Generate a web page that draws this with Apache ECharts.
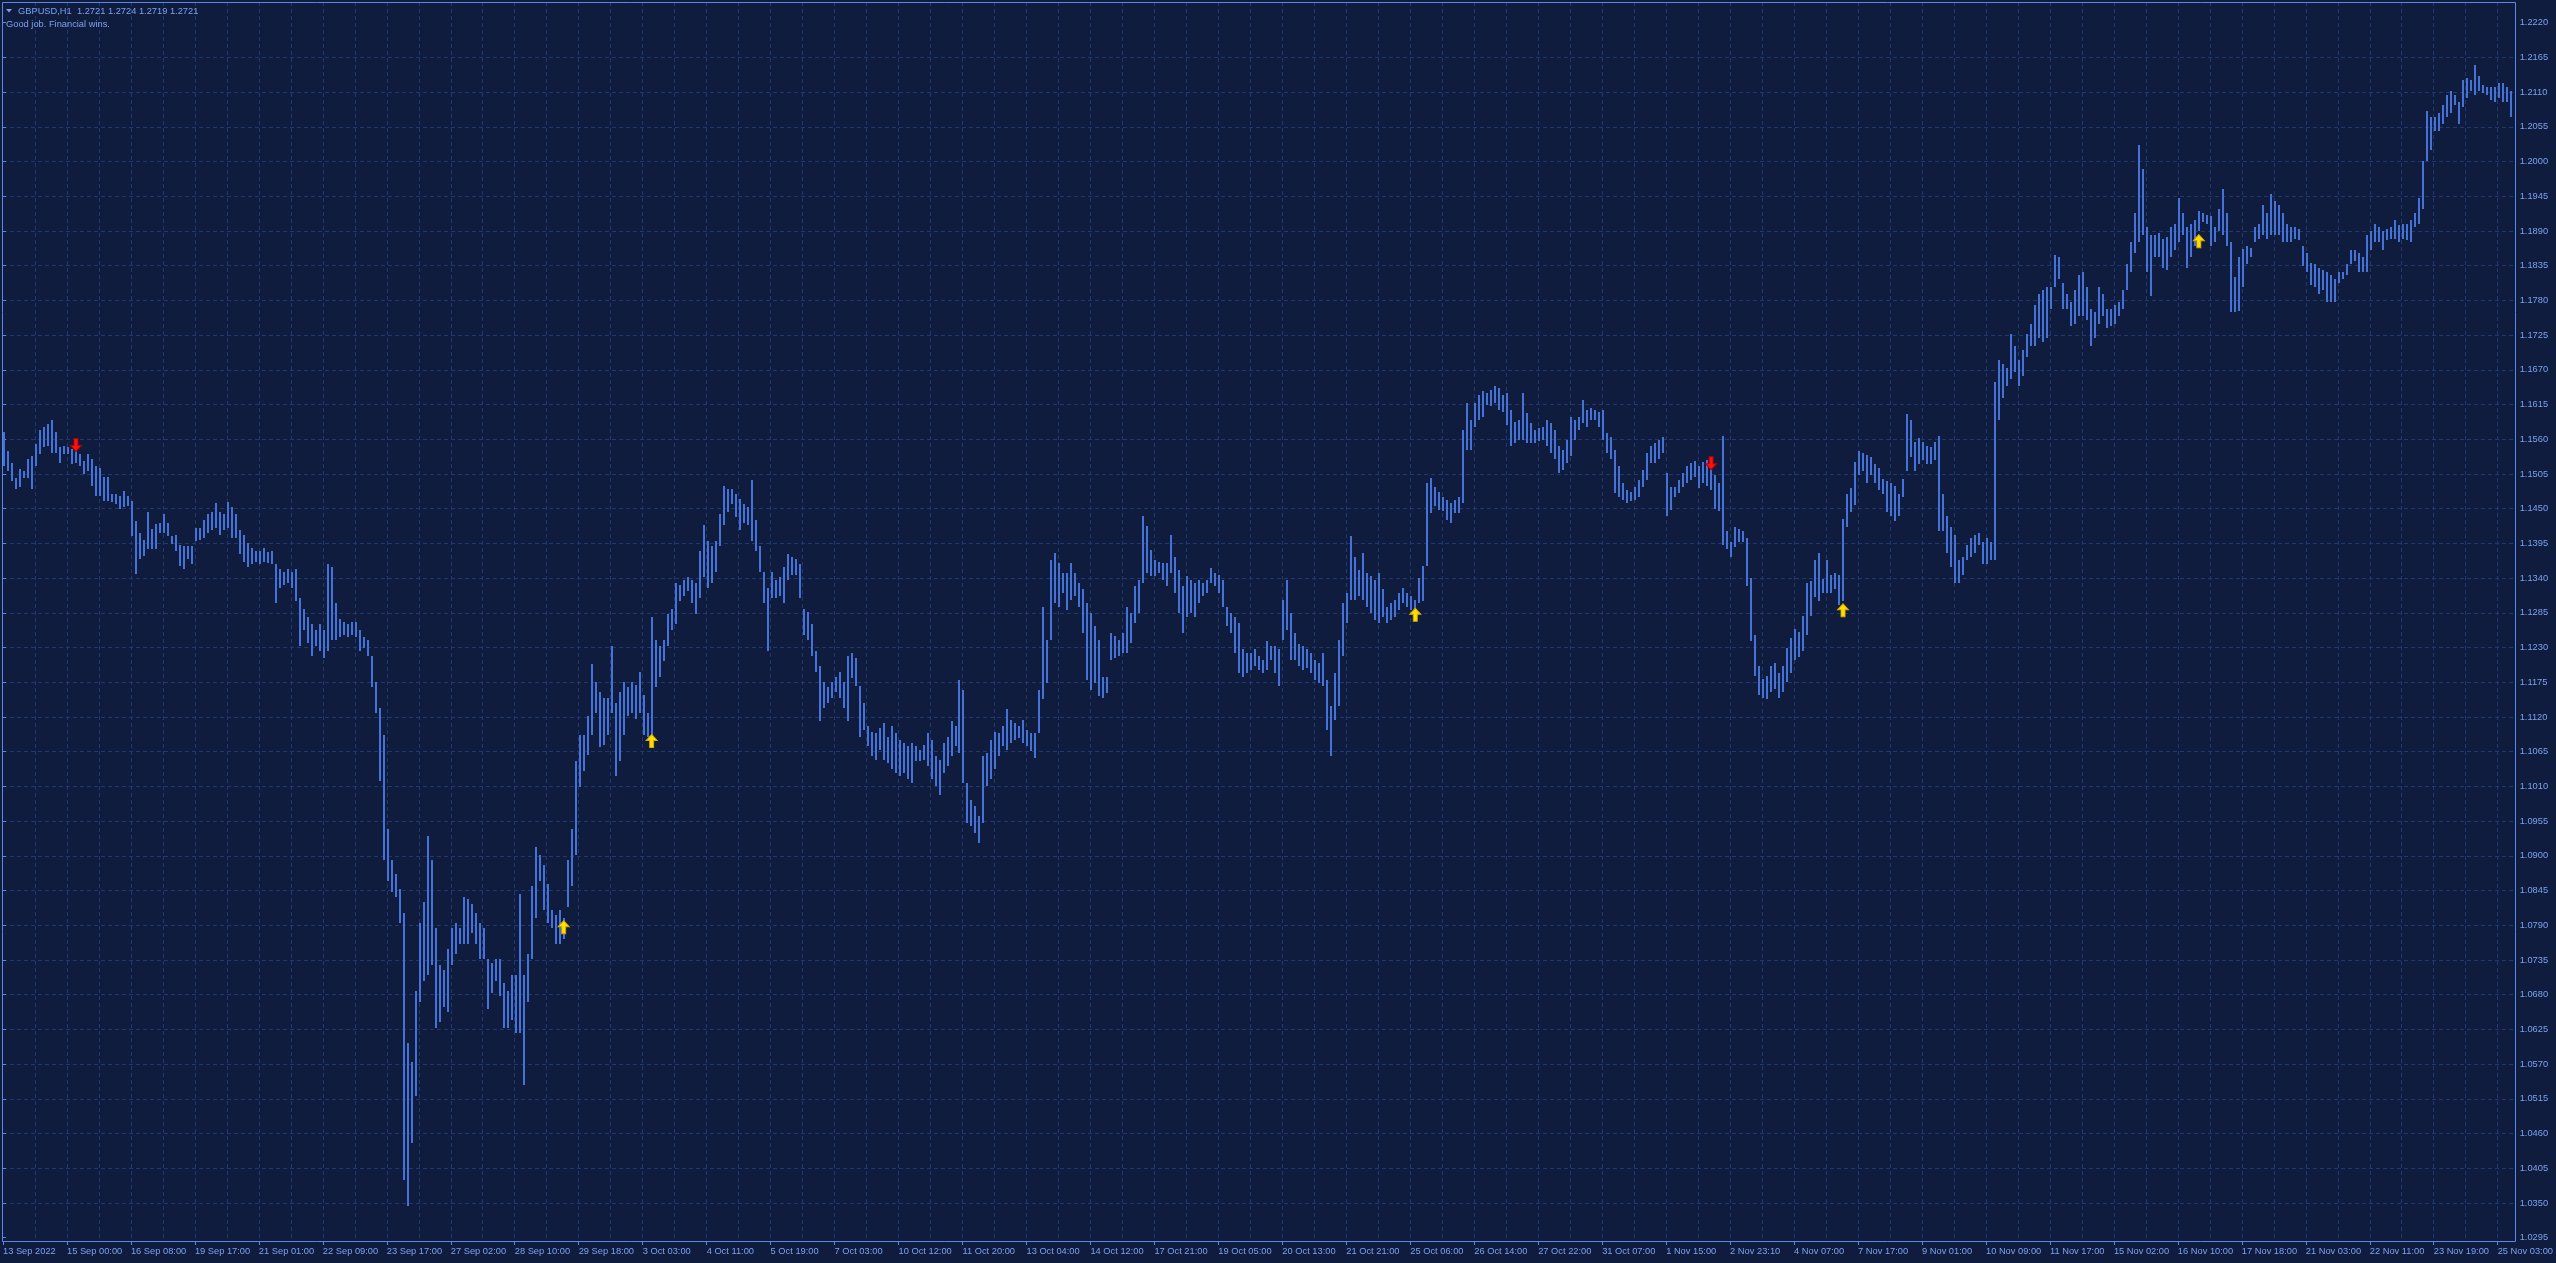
<!DOCTYPE html>
<html>
<head>
<meta charset="utf-8">
<script src="https://cdn.jsdelivr.net/npm/echarts@6/dist/echarts.min.js"></script>
<style>
html,body{margin:0;padding:0;background:#101c3e;overflow:hidden;}
#c{width:2556px;height:1263px;}
</style>
</head>
<body>
<div id="c"></div>
<script>
// ---------------- data ----------------
const symbolName = 'GBPUSD,H1';
const headerPrices = ['1.2721', '1.2724', '1.2719', '1.2721'];
const noteText = 'Good job. Financial wins.';

// one time label every 32 hourly periods
const timeLabels = ['13 Sep 2022','15 Sep 00:00','16 Sep 08:00','19 Sep 17:00','21 Sep 01:00','22 Sep 09:00','23 Sep 17:00','27 Sep 02:00','28 Sep 10:00','29 Sep 18:00','3 Oct 03:00','4 Oct 11:00','5 Oct 19:00','7 Oct 03:00','10 Oct 12:00','11 Oct 20:00','13 Oct 04:00','14 Oct 12:00','17 Oct 21:00','19 Oct 05:00','20 Oct 13:00','21 Oct 21:00','25 Oct 06:00','26 Oct 14:00','27 Oct 22:00','31 Oct 07:00','1 Nov 15:00','2 Nov 23:10','4 Nov 07:00','7 Nov 17:00','9 Nov 01:00','10 Nov 09:00','11 Nov 17:00','15 Nov 02:00','16 Nov 10:00','17 Nov 18:00','21 Nov 03:00','22 Nov 11:00','23 Nov 19:00','25 Nov 03:00'];

const priceTicks = ['1.0295','1.0350','1.0405','1.0460','1.0515','1.0570','1.0625','1.0680','1.0735','1.0790','1.0845','1.0900','1.0955','1.1010','1.1065','1.1120','1.1175','1.1230','1.1285','1.1340','1.1395','1.1450','1.1505','1.1560','1.1615','1.1670','1.1725','1.1780','1.1835','1.1890','1.1945','1.2000','1.2055','1.2110','1.2165','1.2220'];

// high / low of each bar (each bar = 2 hourly periods)
const barHigh = [
1.1571,1.1542,1.1523,1.1499,1.1513,1.1510,1.1529,1.1534,1.1552,1.1574,
1.1579,1.1584,1.1590,1.1571,1.1547,1.1550,1.1547,1.1545,1.1555,1.1537,
1.1526,1.1537,1.1529,1.1518,1.1515,1.1500,1.1500,1.1473,1.1473,1.1470,
1.1478,1.1470,1.1462,1.1430,1.1412,1.1401,1.1444,1.1418,1.1425,1.1428,
1.1441,1.1428,1.1406,1.1409,1.1393,1.1391,1.1391,1.1391,1.1420,1.1420,
1.1432,1.1441,1.1445,1.1459,1.1445,1.1441,1.1460,1.1453,1.1441,1.1416,
1.1408,1.1395,1.1387,1.1383,1.1383,1.1387,1.1381,1.1383,1.1362,1.1354,
1.1350,1.1354,1.1350,1.1354,1.1308,1.1291,1.1279,1.1267,1.1258,1.1267,
1.1258,1.1362,1.1358,1.1300,1.1275,1.1271,1.1267,1.1271,1.1271,1.1258,
1.1246,1.1242,1.1217,1.1175,1.1134,1.1092,1.0943,1.0893,1.0872,1.0848,
1.0810,1.0603,1.0574,1.0686,1.0794,1.0827,1.0931,1.0893,1.0785,1.0727,
1.0719,1.0752,1.0785,1.0794,1.0785,1.0835,1.0831,1.0823,1.0810,1.0794,
1.0785,1.0736,1.0731,1.0736,1.0736,1.0698,1.0686,1.0711,1.0711,1.0839,
1.0711,1.0744,1.0852,1.0914,1.0902,1.0885,1.0856,1.0814,1.0806,1.0814,
1.0802,1.0893,1.0943,1.1051,1.1092,1.1092,1.1121,1.1204,1.1175,1.1159,
1.1150,1.1150,1.1233,1.1142,1.1159,1.1175,1.1167,1.1175,1.1171,1.1192,
1.1155,1.1126,1.1279,1.1242,1.1233,1.1242,1.1283,1.1291,1.1333,1.1329,
1.1337,1.1341,1.1337,1.1333,1.1383,1.1424,1.1399,1.1391,1.1399,1.1441,
1.1486,1.1482,1.1482,1.1474,1.1466,1.1457,1.1453,1.1495,1.1432,1.1391,
1.1350,1.1325,1.1350,1.1337,1.1341,1.1358,1.1379,1.1374,1.1370,1.1362,
1.1291,1.1287,1.1267,1.1225,1.1200,1.1175,1.1167,1.1175,1.1184,1.1192,
1.1175,1.1217,1.1221,1.1213,1.1169,1.1142,1.1105,1.1097,1.1095,1.1103,
1.1111,1.1089,1.1105,1.1095,1.1084,1.1079,1.1074,1.1079,1.1074,1.1068,
1.1076,1.1095,1.1084,1.1058,1.1052,1.1079,1.1089,1.1113,1.1105,1.1179,
1.1163,1.1015,1.0989,1.0979,1.0963,1.1058,1.1063,1.1084,1.1097,1.1095,
1.1105,1.1132,1.1116,1.1111,1.1105,1.1116,1.1100,1.1095,1.1095,1.1163,
1.1295,1.1242,1.1369,1.1380,1.1364,1.1348,1.1348,1.1364,1.1348,1.1332,
1.1322,1.1301,1.1285,1.1264,1.1242,1.1184,1.1184,1.1253,1.1248,1.1242,
1.1253,1.1295,1.1285,1.1327,1.1337,1.1438,1.1422,1.1385,1.1369,1.1366,
1.1364,1.1364,1.1409,1.1374,1.1353,1.1327,1.1343,1.1337,1.1332,1.1337,
1.1332,1.1337,1.1356,1.1348,1.1345,1.1337,1.1295,1.1285,1.1279,1.1269,
1.1227,1.1221,1.1221,1.1227,1.1216,1.1211,1.1240,1.1232,1.1232,1.1227,
1.1306,1.1337,1.1285,1.1253,1.1235,1.1232,1.1227,1.1221,1.1211,1.1206,
1.1221,1.1179,1.1137,1.1190,1.1242,1.1301,1.1316,1.1406,1.1374,1.1353,
1.1380,1.1348,1.1343,1.1337,1.1348,1.1322,1.1295,1.1301,1.1306,1.1316,
1.1324,1.1316,1.1311,1.1306,1.1340,1.1359,1.1491,1.1498,1.1485,1.1477,
1.1469,1.1464,1.1459,1.1464,1.1469,1.1575,1.1617,1.1591,1.1617,1.1630,
1.1636,1.1633,1.1638,1.1644,1.1641,1.1630,1.1633,1.1607,1.1588,1.1591,
1.1633,1.1601,1.1586,1.1575,1.1578,1.1580,1.1591,1.1586,1.1575,1.1549,
1.1543,1.1559,1.1596,1.1591,1.1596,1.1622,1.1607,1.1609,1.1607,1.1604,
1.1607,1.1570,1.1564,1.1543,1.1517,1.1491,1.1480,1.1477,1.1485,1.1496,
1.1512,1.1538,1.1549,1.1554,1.1559,1.1564,1.1506,1.1485,1.1485,1.1496,
1.1506,1.1517,1.1522,1.1525,1.1518,1.1524,1.1527,1.1521,1.1503,1.1491,
1.1565,1.1415,1.1398,1.1421,1.1418,1.1415,1.1404,1.1340,1.1250,1.1200,
1.1180,1.1185,1.1200,1.1205,1.1190,1.1200,1.1230,1.1245,1.1260,1.1255,
1.1280,1.1333,1.1336,1.1368,1.1380,1.1339,1.1368,1.1345,1.1348,1.1345,
1.1433,1.1474,1.1483,1.1524,1.1541,1.1538,1.1535,1.1532,1.1521,1.1515,
1.1497,1.1494,1.1491,1.1486,1.1474,1.1497,1.1600,1.1591,1.1556,1.1562,
1.1556,1.1550,1.1547,1.1556,1.1565,1.1474,1.1439,1.1421,1.1409,1.1368,
1.1374,1.1392,1.1404,1.1409,1.1412,1.1398,1.1404,1.1398,1.1650,1.1685,
1.1679,1.1673,1.1726,1.1708,1.1685,1.1702,1.1726,1.1743,1.1773,1.1790,
1.1796,1.1802,1.1802,1.1852,1.1849,1.1808,1.1790,1.1778,1.1796,1.1820,
1.1825,1.1802,1.1767,1.1761,1.1802,1.1790,1.1767,1.1767,1.1773,1.1778,
1.1796,1.1837,1.1872,1.1919,1.2027,1.1989,1.1896,1.1884,1.1884,1.1887,
1.1878,1.1881,1.1896,1.1901,1.1942,1.1919,1.1896,1.1901,1.1907,1.1922,
1.1919,1.1916,1.1913,1.1896,1.1925,1.1957,1.1919,1.1872,1.1817,1.1849,
1.1861,1.1866,1.1863,1.1896,1.1901,1.1931,1.1919,1.1948,1.1937,1.1931,
1.1919,1.1901,1.1896,1.1896,1.1893,1.1866,1.1855,1.1840,1.1837,1.1831,
1.1828,1.1825,1.1820,1.1814,1.1825,1.1825,1.1837,1.1860,1.1860,1.1855,
1.1849,1.1884,1.1890,1.1901,1.1896,1.1890,1.1893,1.1896,1.1907,1.1899,
1.1901,1.1901,1.1907,1.1919,1.1942,1.2001,1.2080,1.2071,1.2071,1.2077,
1.2089,1.2106,1.2112,1.2106,1.2095,1.2130,1.2133,1.2130,1.2153,1.2136,
1.2121,1.2118,1.2118,1.2118,1.2124,1.2124,1.2118,1.2112
];
const barLow = [
1.1518,1.1510,1.1494,1.1481,1.1484,1.1499,1.1499,1.1481,1.1518,1.1537,
1.1547,1.1550,1.1539,1.1539,1.1523,1.1537,1.1537,1.1521,1.1523,1.1518,
1.1505,1.1510,1.1486,1.1470,1.1470,1.1462,1.1462,1.1460,1.1457,1.1449,
1.1452,1.1454,1.1407,1.1346,1.1371,1.1375,1.1386,1.1386,1.1386,1.1412,
1.1412,1.1407,1.1394,1.1383,1.1359,1.1354,1.1370,1.1362,1.1399,1.1401,
1.1403,1.1412,1.1416,1.1420,1.1408,1.1416,1.1420,1.1403,1.1403,1.1379,
1.1366,1.1358,1.1362,1.1366,1.1362,1.1366,1.1364,1.1362,1.1301,1.1325,
1.1329,1.1333,1.1325,1.1304,1.1233,1.1258,1.1238,1.1217,1.1233,1.1225,
1.1213,1.1225,1.1242,1.1242,1.1246,1.1250,1.1246,1.1250,1.1246,1.1225,
1.1229,1.1217,1.1167,1.1126,1.1018,1.0893,1.0860,1.0843,1.0835,1.0794,
1.0387,1.0346,1.0445,1.0520,1.0669,1.0702,1.0711,1.0727,1.0628,1.0636,
1.0661,1.0653,1.0727,1.0744,1.0760,1.0760,1.0760,1.0777,1.0760,1.0736,
1.0736,1.0657,1.0682,1.0702,1.0678,1.0628,1.0628,1.0640,1.0619,1.0619,
1.0537,1.0669,1.0736,1.0802,1.0860,1.0814,1.0794,1.0785,1.0760,1.0760,
1.0769,1.0819,1.0852,1.0902,1.1009,1.1034,1.1059,1.1092,1.1126,1.1072,
1.1076,1.1092,1.1126,1.1026,1.1051,1.1092,1.1121,1.1126,1.1117,1.1126,
1.1092,1.1088,1.1076,1.1167,1.1184,1.1208,1.1233,1.1258,1.1267,1.1304,
1.1312,1.1320,1.1300,1.1283,1.1308,1.1341,1.1325,1.1333,1.1350,1.1391,
1.1424,1.1445,1.1457,1.1437,1.1416,1.1428,1.1424,1.1399,1.1383,1.1350,
1.1300,1.1225,1.1308,1.1308,1.1312,1.1300,1.1337,1.1345,1.1345,1.1308,
1.1250,1.1242,1.1217,1.1192,1.1113,1.1134,1.1142,1.1150,1.1159,1.1150,
1.1134,1.1113,1.1182,1.1169,1.1089,1.1100,1.1074,1.1058,1.1052,1.1068,
1.1052,1.1047,1.1037,1.1031,1.1026,1.1031,1.1021,1.1015,1.1050,1.1050,
1.1052,1.1042,1.1021,1.1010,1.0997,1.1031,1.1042,1.1058,1.1074,1.1063,
1.1015,1.0952,1.0947,1.0936,1.0920,1.0952,1.1010,1.1021,1.1037,1.1058,
1.1074,1.1068,1.1079,1.1084,1.1087,1.1079,1.1074,1.1066,1.1055,1.1095,
1.1148,1.1174,1.1242,1.1301,1.1295,1.1316,1.1290,1.1306,1.1311,1.1295,
1.1253,1.1179,1.1163,1.1174,1.1153,1.1150,1.1158,1.1211,1.1213,1.1216,
1.1221,1.1221,1.1237,1.1269,1.1285,1.1332,1.1348,1.1343,1.1343,1.1348,
1.1337,1.1327,1.1348,1.1316,1.1285,1.1253,1.1279,1.1285,1.1279,1.1301,
1.1311,1.1316,1.1332,1.1327,1.1316,1.1295,1.1264,1.1253,1.1221,1.1190,
1.1184,1.1190,1.1195,1.1200,1.1195,1.1190,1.1195,1.1211,1.1190,1.1169,
1.1242,1.1258,1.1211,1.1211,1.1200,1.1195,1.1198,1.1190,1.1179,1.1174,
1.1169,1.1100,1.1058,1.1116,1.1137,1.1216,1.1269,1.1306,1.1306,1.1311,
1.1306,1.1295,1.1285,1.1274,1.1269,1.1279,1.1269,1.1274,1.1279,1.1290,
1.1301,1.1295,1.1290,1.1274,1.1301,1.1303,1.1359,1.1443,1.1454,1.1448,
1.1446,1.1432,1.1427,1.1443,1.1443,1.1459,1.1543,1.1543,1.1580,1.1591,
1.1596,1.1615,1.1612,1.1617,1.1607,1.1604,1.1583,1.1549,1.1554,1.1559,
1.1559,1.1554,1.1554,1.1554,1.1557,1.1559,1.1549,1.1538,1.1528,1.1506,
1.1512,1.1522,1.1533,1.1559,1.1575,1.1586,1.1580,1.1591,1.1591,1.1580,
1.1559,1.1538,1.1528,1.1475,1.1469,1.1464,1.1459,1.1462,1.1464,1.1469,
1.1485,1.1496,1.1522,1.1522,1.1528,1.1538,1.1438,1.1448,1.1469,1.1475,
1.1485,1.1491,1.1496,1.1501,1.1483,1.1491,1.1486,1.1480,1.1450,1.1447,
1.1392,1.1386,1.1374,1.1389,1.1398,1.1398,1.1327,1.1240,1.1185,1.1155,
1.1150,1.1148,1.1160,1.1165,1.1150,1.1160,1.1175,1.1190,1.1210,1.1215,
1.1225,1.1250,1.1280,1.1310,1.1304,1.1316,1.1316,1.1316,1.1322,1.1298,
1.1304,1.1421,1.1445,1.1456,1.1503,1.1509,1.1491,1.1503,1.1491,1.1480,
1.1474,1.1445,1.1439,1.1430,1.1439,1.1468,1.1509,1.1532,1.1509,1.1521,
1.1527,1.1521,1.1521,1.1527,1.1415,1.1415,1.1380,1.1357,1.1333,1.1333,
1.1345,1.1368,1.1374,1.1380,1.1392,1.1363,1.1363,1.1368,1.1368,1.1591,
1.1626,1.1644,1.1655,1.1667,1.1644,1.1661,1.1691,1.1708,1.1708,1.1720,
1.1714,1.1720,1.1767,1.1802,1.1814,1.1767,1.1767,1.1740,1.1743,1.1755,
1.1755,1.1749,1.1708,1.1720,1.1743,1.1755,1.1737,1.1740,1.1743,1.1755,
1.1767,1.1796,1.1825,1.1855,1.1872,1.1884,1.1825,1.1787,1.1849,1.1849,
1.1831,1.1828,1.1849,1.1860,1.1872,1.1884,1.1831,1.1849,1.1866,1.1890,
1.1904,1.1901,1.1866,1.1872,1.1890,1.1884,1.1866,1.1761,1.1761,1.1764,
1.1802,1.1837,1.1849,1.1872,1.1878,1.1884,1.1878,1.1884,1.1884,1.1884,
1.1872,1.1872,1.1872,1.1878,1.1875,1.1834,1.1825,1.1805,1.1802,1.1790,
1.1796,1.1778,1.1778,1.1778,1.1808,1.1814,1.1820,1.1837,1.1843,1.1825,
1.1825,1.1825,1.1860,1.1872,1.1872,1.1860,1.1875,1.1878,1.1878,1.1872,
1.1878,1.1875,1.1872,1.1896,1.1901,1.1925,1.2001,1.2019,1.2048,1.2048,
1.2060,1.2071,1.2077,1.2089,1.2060,1.2086,1.2101,1.2112,1.2106,1.2112,
1.2109,1.2106,1.2098,1.2095,1.2101,1.2095,1.2095,1.2071
];

// signal arrows: bar index and price level of the arrow's centre
const upArrowBars = [140, 162, 353, 460, 549];
const upArrowPrices = [1.0787, 1.1082, 1.1282, 1.1289, 1.1874];
const downArrowBars = [18, 427];
const downArrowPrices = [1.1551, 1.1522];

// ---------------- style ----------------
const BG = '#101c3e';
const BAR = '#4472d6';
const GRID = '#1f386d';
const FRAME = '#5a88e6';
const TEXT = '#7aa2ee';
const FONT = 'Liberation Sans, Arial, sans-serif';
const HOURS_PER_BAR = 2;
const HOURS_PER_LABEL = 32;
const X_MAX = 1256.5;

const barData = barHigh.map((h, i) => [i * HOURS_PER_BAR + 0.5, barLow[i], h]);
const upData = upArrowBars.map((b, i) => [b * HOURS_PER_BAR + 0.5, upArrowPrices[i]]);
const downData = downArrowBars.map((b, i) => [b * HOURS_PER_BAR + 0.5, downArrowPrices[i]]);
const labelHours = timeLabels.map((_, j) => j * HOURS_PER_LABEL);

const chart = echarts.init(document.getElementById('c'), null, {renderer: 'canvas'});
chart.setOption({
  backgroundColor: BG,
  animation: false,
  textStyle: {fontFamily: FONT},
  grid: [{left: 3, top: 2, width: 2513, height: 1240, containLabel: false}],
  xAxis: [
    {
      type: 'value', gridIndex: 0, min: 0, max: X_MAX, interval: 16,
      axisLine: {show: false}, axisTick: {show: false}, axisLabel: {show: false},
      splitLine: {show: true, showMinLine: false, showMaxLine: false,
        lineStyle: {color: GRID, width: 1, type: [4, 3]}}
    },
    {
      type: 'value', gridIndex: 0, min: 0, max: X_MAX, position: 'bottom',
      axisLine: {show: false},
      axisTick: {show: true, length: 3, customValues: labelHours, lineStyle: {color: FRAME}},
      axisLabel: {
        show: true, customValues: labelHours, align: 'left', margin: 5,
        color: TEXT, fontSize: 9.3, fontFamily: FONT,
        formatter: v => timeLabels[Math.round(v / HOURS_PER_LABEL)] || ''
      },
      splitLine: {show: false}
    }
  ],
  yAxis: [{
    type: 'value', gridIndex: 0, position: 'right',
    min: 1.028819, max: 1.225280,
    axisLine: {show: false},
    axisTick: {show: true, length: 3, customValues: priceTicks.map(Number), lineStyle: {color: FRAME}},
    axisLabel: {
      show: true, customValues: priceTicks.map(Number), margin: 5,
      color: TEXT, fontSize: 9.3, fontFamily: FONT,
      formatter: v => Number(v).toFixed(4)
    },
    splitLine: {show: true, showMinLine: false, showMaxLine: false,
      lineStyle: {color: GRID, width: 1, type: [4, 3]}}
  }],
  series: [
    {
      type: 'custom', xAxisIndex: 0, yAxisIndex: 0, data: barData,
      clip: true, silent: true,
      renderItem: function (params, api) {
        const x = api.value(0), lo = api.value(1), hi = api.value(2);
        const top = api.coord([x, hi]);
        const bot = api.coord([x, lo]);
        const px = Math.round(top[0]) - 1;
        const y0 = Math.round(top[1]);
        const y1 = Math.round(bot[1]);
        return {type: 'rect', shape: {x: px, y: y0, width: 2, height: Math.max(1, y1 - y0)},
          style: {fill: BAR}};
      }
    },
    {
      type: 'scatter', xAxisIndex: 0, yAxisIndex: 0, data: upData, silent: true, z: 5,
      symbol: 'path://M5.5,0L11,6L7.5,6L7.5,13L3.5,13L3.5,6L0,6Z', symbolSize: [11, 13],
      itemStyle: {color: '#ffe000', borderColor: '#d9a800', borderWidth: 1, opacity: 1}
    },
    {
      type: 'scatter', xAxisIndex: 0, yAxisIndex: 0, data: downData, silent: true, z: 5,
      symbol: 'path://M3.5,0L7.5,0L7.5,7L11,7L5.5,13L0,7L3.5,7Z', symbolSize: [11, 13],
      itemStyle: {color: '#ff1010', borderColor: '#b80000', borderWidth: 1, opacity: 1}
    }
  ],
  graphic: [
    {type: 'rect', z: 10, silent: true, shape: {x: 2.5, y: 2.5, width: 2513, height: 1239},
      style: {fill: null, stroke: FRAME, lineWidth: 1}},
    {type: 'polygon', z: 10, silent: true, shape: {points: [[6, 9], [12, 9], [9, 12.5]]},
      style: {fill: TEXT}},
    {type: 'text', z: 10, silent: true, x: 18, y: 11,
      style: {text: symbolName + '  ' + headerPrices.join(' '), fill: TEXT, font: '9.3px ' + FONT, textVerticalAlign: 'middle', verticalAlign: 'middle'}},
    {type: 'text', z: 10, silent: true, x: 6, y: 24,
      style: {text: noteText, fill: TEXT, font: '9.3px ' + FONT, textVerticalAlign: 'middle', verticalAlign: 'middle'}}
  ]
});
</script>
</body>
</html>
